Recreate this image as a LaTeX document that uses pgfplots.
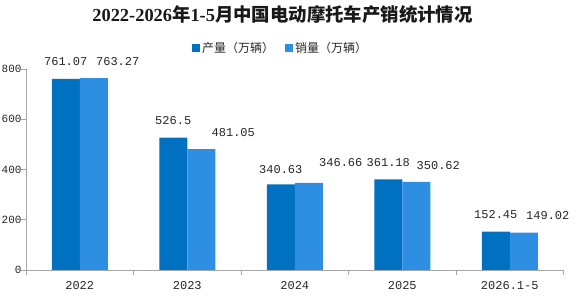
\documentclass[border=0pt]{standalone}
\usepackage{fontspec}
\usepackage{pgfplots}
\pgfplotsset{compat=1.18}
\usepackage{pgfplotstable}
\setmainfont{Liberation Serif}
\newfontfamily\cjk{Noto Sans CJK SC}
\newfontfamily\numfont{Liberation Mono}
\definecolor{prodblue}{RGB}{0,112,192}
\definecolor{salesblue}{RGB}{46,142,226}
\definecolor{axisgray}{RGB}{166,166,166}

% production / sales (10k units); dx, dy place the value labels
\pgfplotstableread{
x prod   pdx pdy  sales  sdx sdy
0 761.07 0   12.5 763.27 24  12.5
1 526.5  0   12.5 481.05 32  12.5
2 340.63 0   11   346.66 32  16
3 361.18 0   12.5 350.62 22  12.5
4 152.45 0   12.5 149.02 24  12.5
}\datatable

\begin{document}
\begin{tikzpicture}
\begin{axis}[
  at={(26pt,29pt)}, anchor=south west,
  scale only axis, width=537.5pt, height=201pt,
  xmin=-0.5, xmax=4.5, ymin=0, ymax=800,
  ybar=0pt, bar width=28pt,
  xtick={0,1,2,3,4},
  xticklabels={2022,2023,2024,2025,2026.1-5},
  minor xtick={-0.5,0.5,...,4.5},
  ytick={0,200,400,600,800},
  axis x line*=bottom, axis y line*=left,
  axis line style={axisgray, line width=0.8pt},
  tick align=outside,
  major tick length=4.5pt, minor tick length=5pt,
  tick style={axisgray, line width=0.8pt},
  every major x tick/.style={draw=none},
  tick label style={font=\numfont\fontsize{12}{12}\selectfont, text=black!85},
  yticklabel style={font=\numfont\fontsize{11}{11}\selectfont, xshift=3.5pt},
  /pgf/number format/assume math mode=true,
  xticklabel style={yshift=-3pt},
  nodes near coords,
  point meta=explicit symbolic,
  every node near coord/.append style={font=\numfont\fontsize{12}{12}\selectfont, text=black!85, inner sep=0pt, anchor=south},
  legend columns=2,
  legend style={draw=none, fill=none, at={(0.4735,1.1045)}, anchor=center,
    font=\cjk\fontsize{12}{12}\selectfont, text=black!85,
    /tikz/every even column/.append style={column sep=9pt}},
  legend image code/.code={\fill[#1] (0pt,-4pt) rectangle (8pt,4pt);},
]
\addplot[fill=prodblue, draw=none,
  visualization depends on={\thisrow{pdx} \as \dx},
  visualization depends on={\thisrow{pdy} \as \dy},
  nodes near coords style={xshift=\dx, yshift=\dy},
  legend image code/.code={\fill[prodblue] (0pt,-4pt) rectangle (8pt,4pt);}]
  table[x=x, y=prod, meta=prod] {\datatable};
\addlegendentry{产量（万辆）}
\addplot[fill=salesblue, draw=none,
  visualization depends on={\thisrow{sdx} \as \dx},
  visualization depends on={\thisrow{sdy} \as \dy},
  nodes near coords style={xshift=\dx, yshift=\dy},
  legend image code/.code={\fill[salesblue] (0pt,-4pt) rectangle (8pt,4pt);}]
  table[x=x, y=sales, meta=sales] {\datatable};
\addlegendentry{销量（万辆）}
\end{axis}
\node[font=\fontsize{18.4}{18.4}\selectfont\bfseries, text=black!90] at (282.5pt,284pt)
  {2022-2026{\cjk 年}1-5{\cjk 月中国电动摩托车产销统计情况}};
\pgfresetboundingbox
\path[use as bounding box] (0pt,0pt) rectangle (577pt,299pt);
\end{tikzpicture}
\end{document}
